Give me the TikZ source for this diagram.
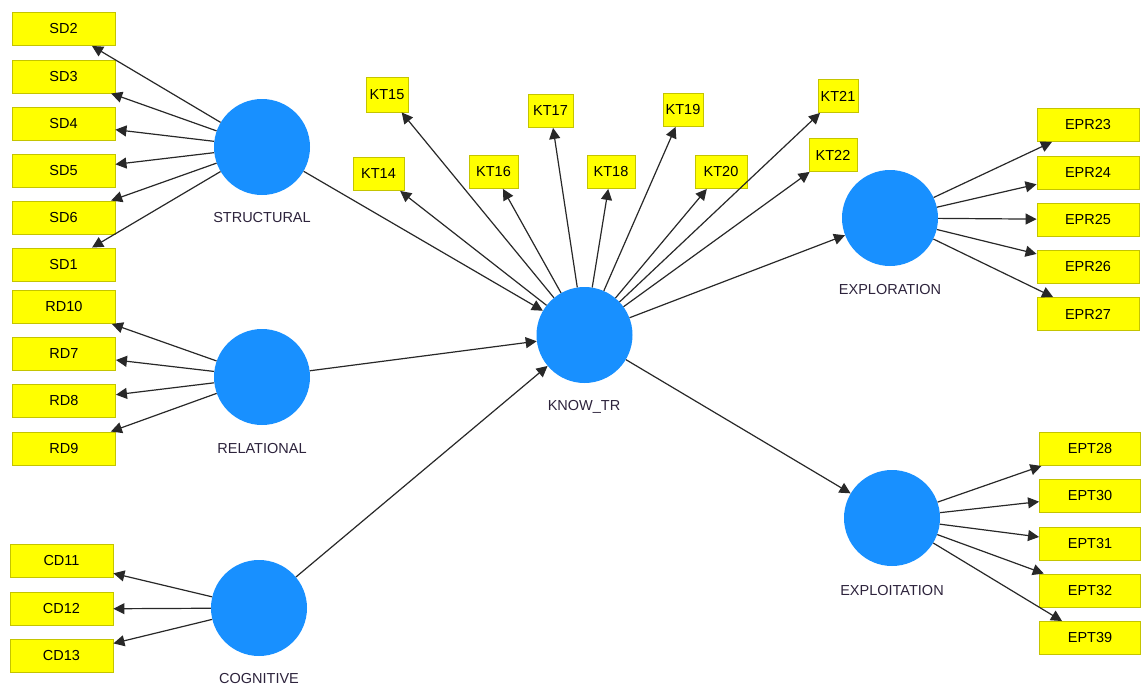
\documentclass[tikz,border=0pt]{standalone}
\usepackage{fontspec}
\setmainfont{Liberation Sans}
\usetikzlibrary{arrows.meta}
\definecolor{boxyellow}{RGB}{255,255,0}
\definecolor{boxedge}{RGB}{196,196,0}
\definecolor{latentblue}{RGB}{24,144,255}
\definecolor{linkgray}{RGB}{40,40,40}
\definecolor{labelink}{RGB}{45,35,60}
\tikzset{
  ind/.style={draw=boxedge, fill=boxyellow, line width=0.9pt, minimum height=33pt,
              inner sep=0pt, font=\fontsize{14.5}{16}\selectfont},
  wide/.style={ind, minimum width=103pt},
  latent/.style={circle, fill=latentblue, minimum size=96pt, inner sep=0pt},
  lvname/.style={font=\fontsize{14.5}{16}\selectfont, text=labelink, inner sep=0pt},
  link/.style={draw=linkgray, line width=1.2pt, -{Triangle[length=11pt,width=11pt]}}
}
\begin{document}
\begin{tikzpicture}[x=1pt, y=-1pt]
\useasboundingbox[fill=white] (0,0) rectangle (1141,688);

% latent variables
\node[latent] (S) at (262,147) {};
\node[latent] (R) at (262,377) {};
\node[latent] (C) at (259,608) {};
\node[latent] (K) at (584.5,335) {};
\node[latent] (E) at (890,218) {};
\node[latent] (X) at (892,518) {};

\node[lvname] (Sl) at (262,218) {STRUCTURAL};
\node[lvname] (Rl) at (262,449) {RELATIONAL};
\node[lvname] (Cl) at (259,679) {COGNITIVE};
\node[lvname] (Kl) at (584,407) {KNOW\_TR};
\node[lvname] (El) at (890,290) {EXPLORATION};
\node[lvname] (Xl) at (892,591) {EXPLOITATION};

% structural indicators
\node[wide] (SD2) at (63.5,29)    {SD2};
\node[wide] (SD3) at (63.5,76.5)  {SD3};
\node[wide] (SD4) at (63.5,123.5) {SD4};
\node[wide] (SD5) at (63.5,170.5) {SD5};
\node[wide] (SD6) at (63.5,217.5) {SD6};
\node[wide] (SD1) at (63.5,264.5) {SD1};

% relational indicators
\node[wide] (RD10) at (64,307)   {RD10};
\node[wide] (RD7)  at (64,354)   {RD7};
\node[wide] (RD8)  at (64,401)   {RD8};
\node[wide] (RD9)  at (64,448.5) {RD9};

% cognitive indicators
\node[wide] (CD11) at (61.5,561) {CD11};
\node[wide] (CD12) at (61.5,609) {CD12};
\node[wide] (CD13) at (61.5,656) {CD13};

% knowledge transfer indicators
\node[ind, minimum width=42pt, minimum height=35pt] (KT15) at (387,94.5) {KT15};
\node[ind, minimum width=45pt] (KT17) at (550.5,111) {KT17};
\node[ind, minimum width=40pt] (KT19) at (683,110)   {KT19};
\node[ind, minimum width=40pt] (KT21) at (838,96)    {KT21};
\node[ind, minimum width=51pt] (KT14) at (378.5,174) {KT14};
\node[ind, minimum width=49pt] (KT16) at (493.5,172) {KT16};
\node[ind, minimum width=48pt] (KT18) at (611,172)   {KT18};
\node[ind, minimum width=52pt] (KT20) at (721,172)   {KT20};
\node[ind, minimum width=48pt] (KT22) at (833,155)   {KT22};

% exploration indicators
\node[wide, minimum width=102pt] (EPR23) at (1088,125)   {EPR23};
\node[wide, minimum width=102pt] (EPR24) at (1088,172.5) {EPR24};
\node[wide, minimum width=102pt] (EPR25) at (1088,219.5) {EPR25};
\node[wide, minimum width=102pt] (EPR26) at (1088,266.5) {EPR26};
\node[wide, minimum width=102pt] (EPR27) at (1088,314)   {EPR27};

% exploitation indicators
\node[wide, minimum width=101pt] (EPT28) at (1090,449)   {EPT28};
\node[wide, minimum width=101pt] (EPT30) at (1090,496)   {EPT30};
\node[wide, minimum width=101pt] (EPT31) at (1090,543.5) {EPT31};
\node[wide, minimum width=101pt] (EPT32) at (1090,590.5) {EPT32};
\node[wide, minimum width=101pt] (EPT39) at (1090,638)   {EPT39};

% outer model links
\foreach \i in {SD2,SD3,SD4,SD5,SD6,SD1} \draw[link] (S) -- (\i);
\foreach \i in {RD10,RD7,RD8,RD9} \draw[link] (R) -- (\i);
\foreach \i in {CD11,CD12,CD13} \draw[link] (C) -- (\i);
\foreach \i in {KT14,KT15,KT16,KT17,KT18,KT19,KT20,KT21,KT22} \draw[link] (K) -- (\i);
\foreach \i in {EPR23,EPR24,EPR25,EPR26,EPR27} \draw[link] (E) -- (\i);
\foreach \i in {EPT28,EPT30,EPT31,EPT32,EPT39} \draw[link] (X) -- (\i);

% inner model paths
\draw[link] (S) -- (K);
\draw[link] (R) -- (K);
\draw[link] (C) -- (K);
\draw[link] (K) -- (E);
\draw[link] (K) -- (X);
\end{tikzpicture}
\end{document}
